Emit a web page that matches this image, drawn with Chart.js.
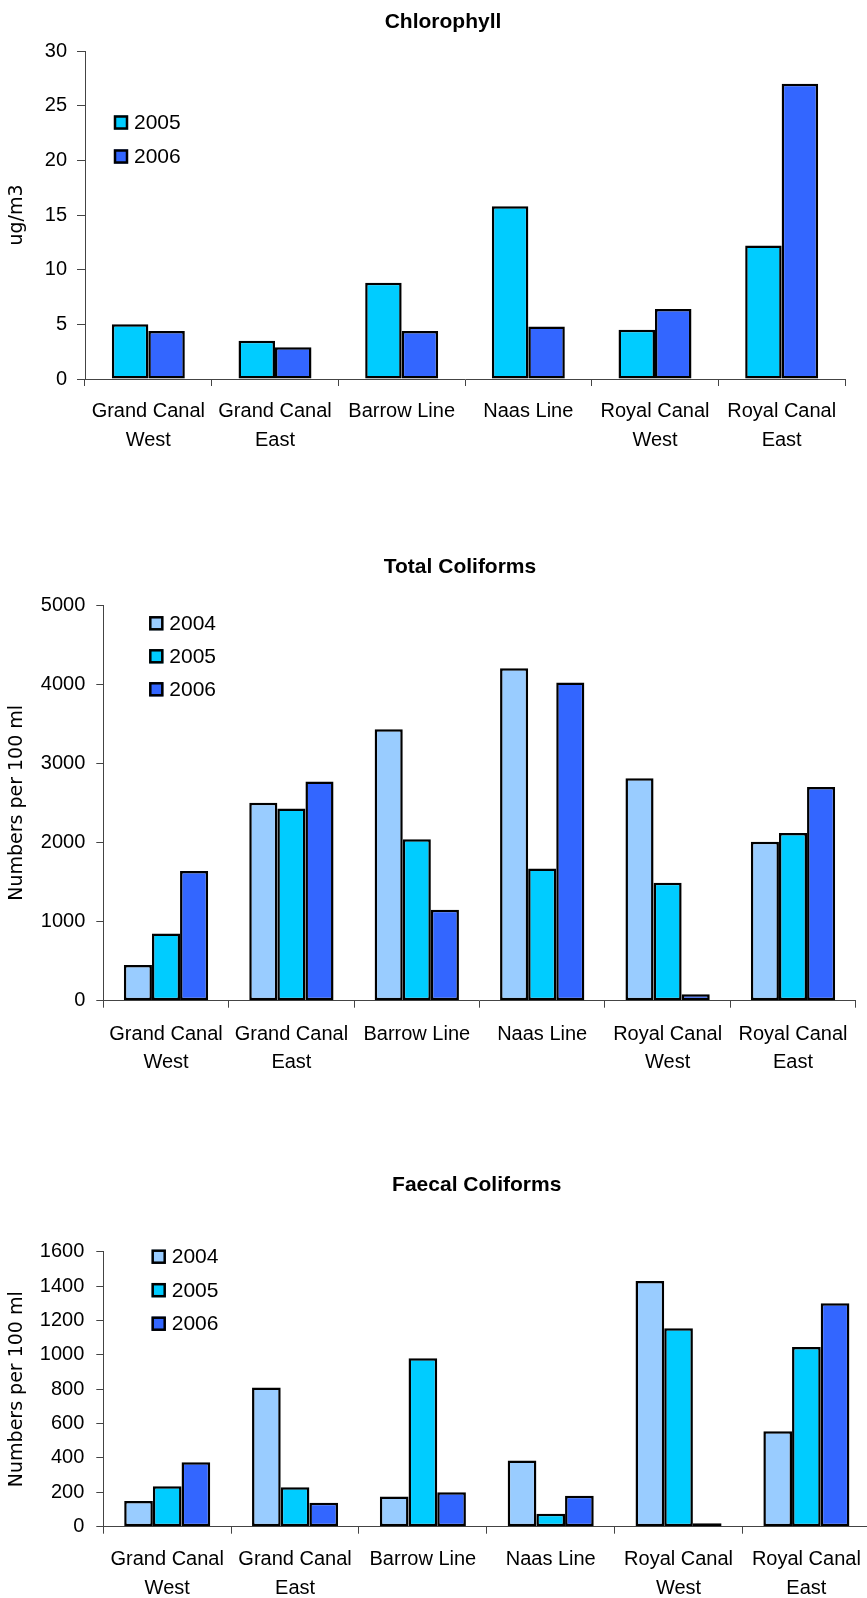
<!DOCTYPE html>
<html>
<head>
<meta charset="utf-8">
<script src="https://cdn.jsdelivr.net/npm/chart.js@4/dist/chart.umd.min.js"></script>
<style>
  html, body { margin: 0; padding: 0; background: #fff; overflow: hidden; }
  body { width: 867px; height: 1598px; position: relative; }
  canvas { position: absolute; left: 0; }
</style>
</head>
<body>
<canvas id="chlorophyll" width="867" height="470" style="top:0px"></canvas>
<canvas id="totalColiforms" width="867" height="545" style="top:530px"></canvas>
<canvas id="faecalColiforms" width="880" height="448" style="top:1150px"></canvas>
<script>
// Sampling sites along the canals
const sites = [
    ['Grand Canal', 'West'],
    ['Grand Canal', 'East'],
    'Barrow Line',
    'Naas Line',
    ['Royal Canal', 'West'],
    ['Royal Canal', 'East']
];

// Chlorophyll, ug/m3
const chlorophyll2005 = [5.0, 3.5, 8.8, 15.8, 4.5, 12.2];
const chlorophyll2006 = [4.4, 2.9, 4.4, 4.8, 6.4, 27.0];

// Total coliforms, numbers per 100 ml
const totalColiforms2004 = [450, 2500, 3430, 4200, 2810, 2010];
const totalColiforms2005 = [850, 2430, 2040, 1670, 1490, 2120];
const totalColiforms2006 = [1640, 2770, 1150, 4020, 80, 2700];

// Faecal coliforms, numbers per 100 ml
const faecalColiforms2004 = [150, 810, 175, 385, 1430, 555];
const faecalColiforms2005 = [235, 230, 980, 75, 1155, 1045];
const faecalColiforms2006 = [375, 140, 200, 180, 20, 1300];

const yearColours = { '2004': '#99CCFF', '2005': '#00CCFF', '2006': '#3366FF' };

const AXIS = '#444';
const LABEL_FONT = { family: '"Liberation Sans", Arial, sans-serif', size: 20 };

function series(year, values) {
    return {
        label: year,
        data: values,
        backgroundColor: yearColours[year],
        borderColor: '#000',
        borderWidth: 2.5,
        borderSkipped: false
    };
}

// Chart title drawn at a fixed spot over the plot
const titlePlugin = {
    id: 'sheetTitle',
    afterDraw(chart, args, opts) {
        const ctx = chart.ctx;
        ctx.save();
        ctx.font = 'bold 21px "Liberation Sans", Arial, sans-serif';
        ctx.fillStyle = '#000';
        ctx.textAlign = 'center';
        ctx.textBaseline = 'middle';
        ctx.fillText(opts.text, opts.x, opts.y);
        ctx.restore();
    }
};

// Legend boxes placed inside the plot area, top left
const insideLegend = {
    id: 'insideLegend',
    afterDraw(chart, args, opts) {
        const ctx = chart.ctx;
        const area = chart.chartArea;
        ctx.save();
        ctx.font = '21px "Liberation Sans", Arial, sans-serif';
        ctx.textBaseline = 'middle';
        ctx.textAlign = 'left';
        chart.data.datasets.forEach((ds, i) => {
            const x = area.left + opts.dx;
            const cy = area.top + opts.dy + i * opts.gap;
            ctx.fillStyle = ds.backgroundColor;
            ctx.fillRect(x, cy - 7, 14, 14);
            ctx.lineWidth = 2.5;
            ctx.strokeStyle = '#000';
            ctx.strokeRect(x + 1, cy - 6, 12, 12);
            ctx.fillStyle = '#000';
            ctx.fillText(ds.label, x + 20, cy + 1);
        });
        ctx.restore();
    }
};

function makeChart(id, cfg) {
    const canvas = document.getElementById(id);
    return new Chart(canvas, {
        type: 'bar',
        data: { labels: sites, datasets: cfg.datasets },
        plugins: [titlePlugin, insideLegend],
        options: {
            responsive: false,
            animation: false,
            devicePixelRatio: 1,
            categoryPercentage: cfg.groupWidth,
            barPercentage: 1,
            layout: { padding: { top: cfg.top, right: canvas.width - cfg.right, bottom: 0, left: 0 } },
            plugins: {
                legend: { display: false },
                tooltip: { enabled: false },
                sheetTitle: cfg.title,
                insideLegend: cfg.legend
            },
            scales: {
                x: {
                    grid: { drawOnChartArea: false, tickLength: 7, color: AXIS, offset: true },
                    border: { color: AXIS, width: 1 },
                    ticks: {
                        color: '#000',
                        padding: cfg.xPad,
                        maxRotation: 0,
                        autoSkip: false,
                        font: Object.assign({ lineHeight: cfg.lineHeight }, LABEL_FONT)
                    },
                    afterFit(scale) { scale.height = canvas.height - cfg.bottom; }
                },
                y: {
                    min: 0,
                    max: cfg.max,
                    grid: { drawOnChartArea: false, tickLength: cfg.yTick, color: AXIS },
                    border: { color: AXIS, width: 1 },
                    ticks: {
                        stepSize: cfg.step,
                        color: '#000',
                        padding: cfg.yPad,
                        font: LABEL_FONT,
                        callback: value => String(value)
                    },
                    title: {
                        display: true,
                        text: cfg.yTitle,
                        color: '#000',
                        padding: { top: 6, bottom: 0 },
                        font: { family: '"DejaVu Sans", Verdana, sans-serif', size: 19 }
                    },
                    afterFit(scale) { scale.width = cfg.left; }
                }
            }
        }
    });
}

makeChart('chlorophyll', {
    datasets: [series('2005', chlorophyll2005), series('2006', chlorophyll2006)],
    groupWidth: 0.576,
    top: 51, bottom: 379, left: 85, right: 845,
    max: 30, step: 5, yTick: 8, yPad: 10, xPad: 11, lineHeight: 1.45,
    yTitle: 'ug/m3',
    title: { text: 'Chlorophyll', x: 443, y: 22 },
    legend: { dx: 29, dy: 71.5, gap: 34 }
});

makeChart('totalColiforms', {
    datasets: [
        series('2004', totalColiforms2004),
        series('2005', totalColiforms2005),
        series('2006', totalColiforms2006)
    ],
    groupWidth: 0.672,
    top: 75, bottom: 470.7, left: 103.3, right: 855.7,
    max: 5000, step: 1000, yTick: 7, yPad: 11, xPad: 13, lineHeight: 1.4,
    yTitle: 'Numbers per 100 ml',
    title: { text: 'Total Coliforms', x: 460, y: 37 },
    legend: { dx: 46, dy: 18.3, gap: 33 }
});

makeChart('faecalColiforms', {
    datasets: [
        series('2004', faecalColiforms2004),
        series('2005', faecalColiforms2005),
        series('2006', faecalColiforms2006)
    ],
    groupWidth: 0.673,
    top: 101.7, bottom: 376.7, left: 103.3, right: 870.3,
    max: 1600, step: 200, yTick: 7, yPad: 12, xPad: 11, lineHeight: 1.45,
    yTitle: 'Numbers per 100 ml',
    title: { text: 'Faecal Coliforms', x: 476.7, y: 35 },
    legend: { dx: 48.4, dy: 5, gap: 33.5 }
});
</script>
</body>
</html>
